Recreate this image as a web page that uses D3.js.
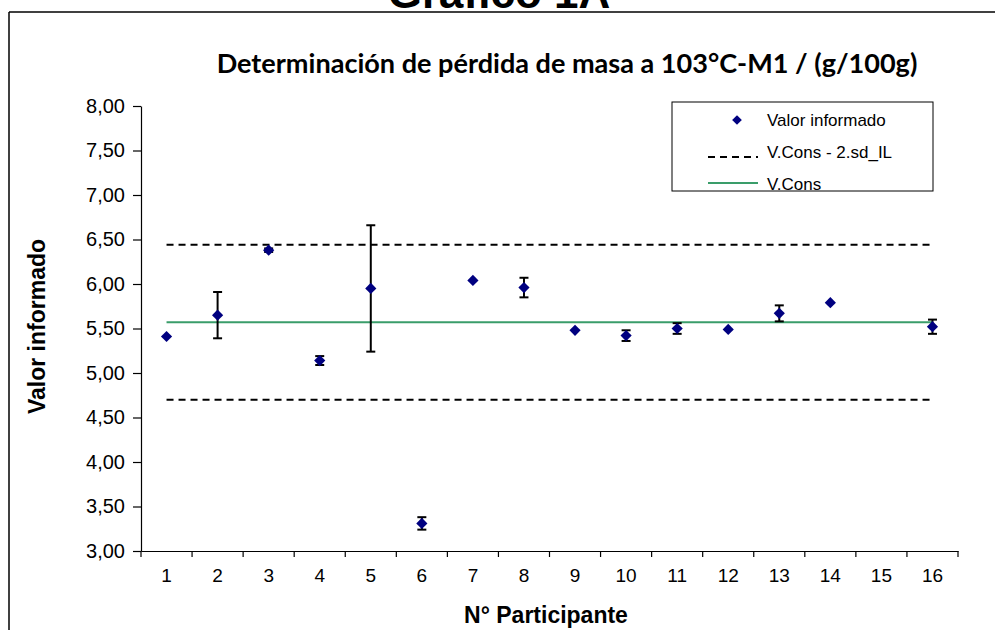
<!DOCTYPE html>
<html>
<head>
<meta charset="utf-8">
<script src="https://cdn.jsdelivr.net/npm/d3@7"></script>
<style>
  html, body { margin: 0; padding: 0; background: #fff; }
  svg { display: block; }
</style>
</head>
<body>
<svg id="chart" width="995" height="630"></svg>
<script>
// ---- data ----
const participants = [1,2,3,4,5,6,7,8,9,10,11,12,13,14,15,16];
const values = [5.41,5.65,6.38,5.14,5.95,3.31,6.04,5.96,5.48,5.42,5.50,5.49,5.67,5.79,null,5.52];
const errors = [0,0.26,0.02,0.05,0.71,0.07,0,0.11,0,0.06,0.06,0,0.09,0,0,0.08];
const vCons = 5.57;
const twoSd = 0.87;
const yTicks = [3,3.5,4,4.5,5,5.5,6,6.5,7,7.5,8];
const legendLabels = ["Valor informado","V.Cons - 2.sd_IL","V.Cons"];
const chartTitle = "Determinación de pérdida de masa a 103°C-M1 / (g/100g)";
const figTitle = "Gráfico 1A";
const xTitle = "N° Participante";
const yTitle = "Valor informado";

// ---- layout ----
const svg = d3.select("#chart");
const plot = {left:141, right:958, top:106, bottom:551};
const x = d3.scaleBand().domain(participants).range([plot.left, plot.right]);
const y = d3.scaleLinear().domain([3,8]).range([plot.bottom, plot.top]);
const cx = p => x(p) + x.bandwidth()/2;
const locale = d3.formatLocale({decimal:",", thousands:".", grouping:[3], currency:["",""]});
const fmt = locale.format(".2f");
const NAVY = "#000080", GREEN = "#3a9d6a";
const AX = "'Liberation Sans', Arial, sans-serif";

// frame (cropped figure border)
svg.append("line").attr("x1",9).attr("x2",995).attr("y1",12).attr("y2",12)
  .attr("stroke","#000").attr("stroke-width",1.5);
svg.append("line").attr("x1",9).attr("x2",9).attr("y1",12).attr("y2",630)
  .attr("stroke","#000").attr("stroke-width",1.5);

// figure title (cut by top, as in the reference)
svg.append("text").attr("x",499).attr("y",8).attr("text-anchor","middle")
  .attr("font-family",AX).attr("font-weight","bold").attr("font-size",44)
  .text(figTitle);

// chart title
const t = svg.append("text").attr("x",567).attr("y",73).attr("text-anchor","middle")
  .attr("font-family","Lato, 'Open Sans', sans-serif").attr("font-weight","bold")
  .attr("font-size",22).attr("fill","#000").text(chartTitle);
const w = t.node().getComputedTextLength();
t.attr("font-size", 22*701/w);

// y axis
const yAxis = svg.append("g").attr("transform",`translate(${plot.left},0)`)
  .call(d3.axisLeft(y).tickValues(yTicks).tickFormat(fmt).tickSizeInner(8).tickSizeOuter(0).tickPadding(8));
yAxis.selectAll("text").attr("font-family",AX).attr("font-size",20).attr("fill","#000");
yAxis.selectAll("line,path").attr("stroke","#000").attr("stroke-width",1.2);

// x axis
const xAxis = svg.append("g").attr("transform",`translate(0,${plot.bottom})`)
  .call(d3.axisBottom(x).tickSize(0).tickPadding(18));
xAxis.selectAll("text").attr("font-family",AX).attr("font-size",19).attr("fill","#000");
xAxis.select("path").attr("stroke","#000").attr("stroke-width",1.2);
const bounds = participants.map(p => x(p)).concat([x(participants[participants.length-1]) + x.bandwidth()]);
xAxis.selectAll("line.bt").data(bounds).enter().append("line").attr("class","bt")
  .attr("x1",d=>d).attr("x2",d=>d).attr("y1",0).attr("y2",6)
  .attr("stroke","#000").attr("stroke-width",1.2);

// axis titles
svg.append("text").attr("transform",`translate(45,${(plot.top+plot.bottom)/2 - 2}) rotate(-90)`)
  .attr("text-anchor","middle").attr("font-family",AX).attr("font-weight","bold")
  .attr("font-size",23).text(yTitle);
svg.append("text").attr("x",546).attr("y",623).attr("text-anchor","middle")
  .attr("font-family",AX).attr("font-weight","bold").attr("font-size",23).text(xTitle);

// reference lines
const first = participants[0], last = participants[participants.length-1];
const refLine = (v, color, dash) => svg.append("line")
  .attr("x1",cx(first)).attr("x2",cx(last)).attr("y1",y(v)).attr("y2",y(v))
  .attr("stroke",color).attr("stroke-width",2).attr("stroke-dasharray",dash);
refLine(vCons + twoSd, "#000", "7,5");
refLine(vCons - twoSd, "#000", "7,5");
refLine(vCons, GREEN, null);

// data
const pts = participants.map((p,i) => ({p, v:values[i], e:errors[i]})).filter(d => d.v != null);
const eb = svg.append("g").attr("stroke","#000").attr("stroke-width",2);
pts.filter(d => d.e > 0).forEach(d => {
  eb.append("line").attr("x1",cx(d.p)).attr("x2",cx(d.p)).attr("y1",y(d.v-d.e)).attr("y2",y(d.v+d.e));
  [d.v-d.e, d.v+d.e].forEach(v => eb.append("line").attr("x1",cx(d.p)-4.5).attr("x2",cx(d.p)+4.5)
    .attr("y1",y(v)).attr("y2",y(v)));
});
const diamond = d3.symbol().type(d3.symbolDiamond2).size(80);
svg.append("g").selectAll("path").data(pts).enter().append("path")
  .attr("d", diamond).attr("transform", d => `translate(${cx(d.p)},${y(d.v)})`)
  .attr("fill", NAVY);

// legend
const lg = svg.append("g");
lg.append("rect").attr("x",672).attr("y",102).attr("width",261).attr("height",89)
  .attr("fill","#fff").attr("stroke","#000").attr("stroke-width",1);
const rows = [120,152,184];
lg.append("path").attr("d",d3.symbol().type(d3.symbolDiamond2).size(60)).attr("transform",`translate(737,${rows[0]})`).attr("fill",NAVY);
lg.append("line").attr("x1",708).attr("x2",758).attr("y1",rows[1]+5).attr("y2",rows[1]+5)
  .attr("stroke","#000").attr("stroke-width",2).attr("stroke-dasharray","7,5");
lg.append("line").attr("x1",708).attr("x2",758).attr("y1",rows[2]-1).attr("y2",rows[2]-1)
  .attr("stroke",GREEN).attr("stroke-width",2);
lg.selectAll("text.l").data(legendLabels).enter().append("text").attr("class","l")
  .attr("x",767).attr("y",(d,i)=>rows[i]+6).attr("font-family",AX).attr("font-size",17)
  .text(d=>d);
</script>
</body>
</html>
